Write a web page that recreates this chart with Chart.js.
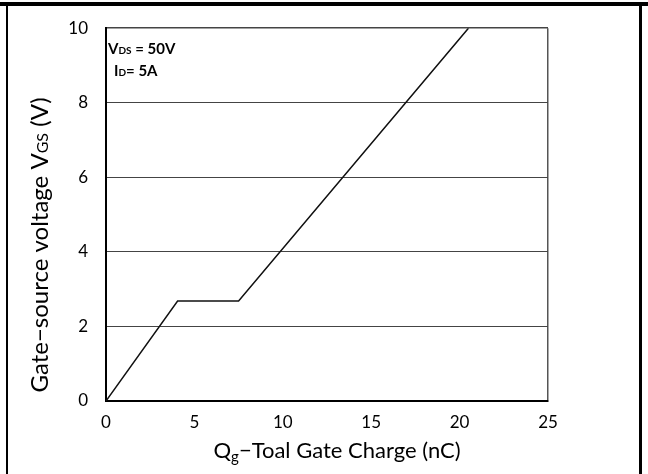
<!DOCTYPE html>
<html>
<head>
<meta charset="utf-8">
<script src="https://cdn.jsdelivr.net/npm/chart.js@4"></script>
<style>
  html, body { margin: 0; padding: 0; background: #fff; }
  #wrap { width: 648px; height: 474px; position: relative; }
</style>
</head>
<body>
<div id="wrap"><canvas id="gate_charge"></canvas></div>
<script>
// gate charge curve
const qg_nc   = [0, 4.05, 7.5, 20.5];
const vgs_v   = [0, 2.68, 2.68, 10];
const x_ticks = [0, 5, 10, 15, 20, 25];
const y_ticks = [0, 2, 4, 6, 8, 10];

const FONT = "Lato, 'Open Sans', sans-serif";

// draws text pieces, some of them small (subscripts)
function draw_parts(ctx, parts, x, y, align) {
    let total = 0;
    for (let p of parts) {
        ctx.font = p.font;
        total += ctx.measureText(p.t).width;
    }
    let cx = align === "center" ? x - total / 2 : x;
    ctx.textAlign = "left";
    for (let p of parts) {
        ctx.font = p.font;
        ctx.fillText(p.t, cx, y + (p.dy || 0));
        cx += ctx.measureText(p.t).width;
    }
}

const decor = {
    id: "decor",
    beforeDraw(chart) {
        const ctx = chart.ctx;
        ctx.save();
        ctx.fillStyle = "#fff";
        ctx.fillRect(0, 0, chart.width, chart.height);
        ctx.fillStyle = "#000";
        ctx.fillRect(0, 2, 648, 4);     // top frame
        ctx.fillRect(6, 2, 2, 472);     // left frame
        ctx.fillRect(639, 2, 3, 472);   // right frame
        ctx.restore();
    },
    afterDraw(chart) {
        const ctx = chart.ctx;
        const a = chart.chartArea;
        ctx.save();
        ctx.fillStyle = "#000";
        ctx.textBaseline = "alphabetic";

        // conditions
        draw_parts(ctx, [
            { t: "V", font: "bold 15px " + FONT },
            { t: "DS", font: "bold 10px " + FONT },
            { t: " = 50V", font: "bold 15px " + FONT }
        ], a.left + 2, 54, "left");
        draw_parts(ctx, [
            { t: "I", font: "bold 15px " + FONT },
            { t: "D", font: "bold 10px " + FONT },
            { t: "= 5A", font: "bold 15px " + FONT }
        ], a.left + 8, 76, "left");

        // x title
        draw_parts(ctx, [
            { t: "Q", font: "22px " + FONT },
            { t: "g", font: "15px " + FONT, dy: 4 },
            { t: "\u2212Toal Gate Charge (nC)", font: "22px " + FONT }
        ], 337, 458, "center");

        // y title, rotated
        ctx.translate(48, 245);
        ctx.rotate(-Math.PI / 2);
        draw_parts(ctx, [
            { t: "Gate\u2212source voltage V", font: "24px " + FONT },
            { t: "GS", font: "16px " + FONT },
            { t: " (V)", font: "24px " + FONT }
        ], 0, 0, "center");
        ctx.restore();
    }
};

const points = qg_nc.map((q, i) => ({ x: q, y: vgs_v[i] }));

new Chart(document.getElementById("gate_charge"), {
    type: "line",
    data: {
        datasets: [{
            data: points,
            borderColor: "#111",
            borderWidth: 1.5,
            pointRadius: 0,
            tension: 0,
            fill: false
        }]
    },
    options: {
        responsive: true,
        maintainAspectRatio: false,
        animation: false,
        layout: { padding: { left: 0, top: 23, right: 100, bottom: 0 } },
        plugins: {
            legend: { display: false },
            tooltip: { enabled: false }
        },
        scales: {
            x: {
                type: "linear",
                min: 0,
                max: 25,
                afterBuildTicks: (s) => { s.ticks = x_ticks.map(v => ({ value: v })); },
                afterFit: (s) => { s.height = 73; },
                ticks: {
                    color: "#000",
                    font: { family: FONT, size: 17 },
                    padding: 11
                },
                grid: {
                    drawTicks: false,
                    color: (c) => c.tick && c.tick.value === 25 ? "#555" : "rgba(0,0,0,0)",
                    lineWidth: 1.5
                },
                border: { color: "#000", width: 2 }
            },
            y: {
                min: 0,
                max: 10,
                afterBuildTicks: (s) => { s.ticks = y_ticks.map(v => ({ value: v })); },
                afterFit: (s) => { s.width = 106; },
                ticks: {
                    color: "#000",
                    font: { family: FONT, size: 17 },
                    padding: 18
                },
                grid: {
                    drawTicks: false,
                    color: (c) => c.tick && c.tick.value === 0 ? "rgba(0,0,0,0)" : "#444",
                    lineWidth: (c) => c.tick && c.tick.value === 10 ? 1.5 : 1
                },
                border: { color: "#000", width: 2 }
            }
        }
    },
    plugins: [decor]
});
</script>
</body>
</html>
